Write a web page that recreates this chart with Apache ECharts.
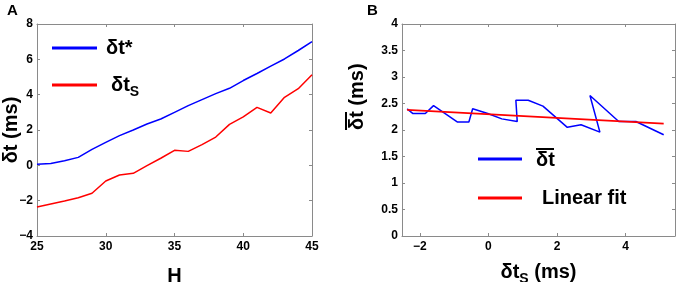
<!DOCTYPE html>
<html>
<head>
<meta charset="utf-8">
<script src="https://cdn.jsdelivr.net/npm/echarts@6/dist/echarts.min.js"></script>
<style>
  html, body { margin: 0; padding: 0; background: #fff; }
  #chart { width: 680px; height: 282px; }
</style>
</head>
<body>
<div id="chart"></div>
<script>
// panel A: delay vs H
const H = [25, 26, 27, 28, 29, 30, 31, 32, 33, 34, 35, 36, 37, 38, 39, 40, 41, 42, 43, 44, 45]
const dtStar = [0.06, 0.1, 0.26, 0.45, 0.9, 1.3, 1.68, 2.0, 2.34, 2.62, 3.0, 3.38, 3.72, 4.06, 4.36, 4.8, 5.2, 5.62, 6.02, 6.5, 7.0]
const dtS = [-2.36, -2.19, -2.02, -1.83, -1.58, -0.89, -0.55, -0.45, -0.02, 0.4, 0.85, 0.79, 1.17, 1.6, 2.32, 2.74, 3.28, 2.96, 3.85, 4.34, 5.13]

// panel B: mean delay vs dt_S
const meanX = [-2.37, -2.2, -2.02, -1.84, -1.6, -0.9, -0.57, -0.46, -0.02, 0.39, 0.84, 0.8, 1.16, 1.59, 2.3, 2.7, 3.25, 2.96, 3.8, 4.3, 5.11]
const meanY = [2.4, 2.31, 2.31, 2.31, 2.46, 2.15, 2.15, 2.4, 2.31, 2.21, 2.16, 2.56, 2.56, 2.45, 2.05, 2.1, 1.96, 2.65, 2.16, 2.16, 1.91]
const fitX = [-2.37, 5.11]
const fitY = [2.38, 2.12]

const bTicks = [-2, 0, 2, 4]

const FONT = 'Liberation Sans, Arial, sans-serif'
const AXIS_GRAY = '#8a8a8a'

const chart = echarts.init(document.getElementById('chart'))

const minus = (v) => String(v).replace('-', '\u2212')

const boxAxis = (extra) => Object.assign({
  type: 'value',
  nameMoveOverlap: false,
  splitLine: { show: false },
  axisLine: { onZero: false, lineStyle: { color: AXIS_GRAY, width: 1 } },
  axisTick: { inside: true, length: 3, lineStyle: { color: AXIS_GRAY } },
  axisLabel: { color: '#000', fontFamily: FONT, fontWeight: 'bold', fontSize: 12, margin: 4, formatter: minus }
}, extra)

const hidden = { show: false }
const nameStyle = { color: '#000', fontFamily: FONT, fontWeight: 'bold', fontSize: 20 }
const xLabel = { color: '#000', fontFamily: FONT, fontWeight: 'bold', fontSize: 12, margin: 5, formatter: minus }
const tick = { inside: true, length: 3, lineStyle: { color: AXIS_GRAY } }

const rich = {
  b: { fontFamily: FONT, fontWeight: 'bold', fontSize: 20, color: '#000', padding: [0, 0, 0, 4] },
  b2: { fontFamily: FONT, fontWeight: 'bold', fontSize: 20, color: '#000', padding: [0, 0, 0, 9] },
  s: { fontFamily: FONT, fontWeight: 'bold', fontSize: 14, color: '#000', padding: [14, 0, 0, 0] },
  sp: { width: 9, height: 2 },
  bar: { width: 18, height: 2, backgroundColor: '#000' },
  bt: { fontFamily: FONT, fontWeight: 'bold', fontSize: 20, color: '#000', padding: [0, 0, 0, 9] },
  bl: { fontFamily: FONT, fontWeight: 'bold', fontSize: 20, color: '#000', padding: [0, 0, 0, 15] }
}

const legendText = {
  'δt*': '{b|δt*}',
  'δtS': '{b2|δt}{s|S}',
  'meanDt': '{sp|}{bar|}\n{bt|δt}',
  'Linear fit': '{bl|Linear fit}'
}

const option = {
  animation: false,
  title: [
    { text: 'A', left: 7, top: 3, padding: 0, textStyle: { fontFamily: FONT, fontWeight: 'bold', fontSize: 15, color: '#000' } },
    { text: 'B', left: 367, top: 3, padding: 0, textStyle: { fontFamily: FONT, fontWeight: 'bold', fontSize: 15, color: '#000' } }
  ],
  grid: [
    { left: 37, right: 368, top: 24, bottom: 46, outerBoundsMode: 'none' },
    { left: 402, right: 5, top: 24, bottom: 46, outerBoundsMode: 'none' }
  ],
  legend: [
    {
      data: ['δt*', 'δtS'],
      orient: 'vertical',
      left: 52,
      top: 38,
      padding: 0,
      itemWidth: 45,
      itemHeight: 3,
      itemGap: 17,
      icon: 'rect',
      selectedMode: false,
      formatter: (name) => legendText[name],
      textStyle: { rich }
    },
    {
      data: ['meanDt', 'Linear fit'],
      orient: 'vertical',
      left: 478,
      top: 143,
      padding: 0,
      itemWidth: 44,
      itemHeight: 3,
      itemGap: 18,
      icon: 'rect',
      selectedMode: false,
      formatter: (name) => legendText[name],
      textStyle: { rich }
    }
  ],
  xAxis: [
    boxAxis({ gridIndex: 0, min: 25, max: 45, interval: 5, axisLabel: xLabel, name: 'H', nameLocation: 'middle', nameGap: 30, nameTextStyle: nameStyle }),
    boxAxis({ gridIndex: 0, min: 25, max: 45, interval: 5, position: 'top', axisLabel: hidden }),
    boxAxis({
      gridIndex: 1, min: -2.52, max: 5.44,
      axisTick: Object.assign({}, tick, { customValues: bTicks }),
      axisLabel: Object.assign({}, xLabel, { customValues: bTicks }),
      name: '{b|δt}{s|S}{b| (ms)}', nameLocation: 'middle', nameGap: 22,
      nameTextStyle: Object.assign({}, nameStyle, { rich: { b: nameStyle, s: { color: '#000', fontFamily: FONT, fontWeight: 'bold', fontSize: 14, padding: [14, 0, 0, 0] } } })
    }),
    boxAxis({
      gridIndex: 1, min: -2.52, max: 5.44, position: 'top', axisLabel: hidden,
      axisTick: Object.assign({}, tick, { customValues: bTicks })
    })
  ],
  yAxis: [
    boxAxis({ gridIndex: 0, min: -4, max: 8, interval: 2, name: 'δt (ms)', nameLocation: 'middle', nameGap: 16, nameTextStyle: nameStyle }),
    boxAxis({ gridIndex: 0, min: -4, max: 8, interval: 2, position: 'right', axisLabel: hidden }),
    boxAxis({
      gridIndex: 1, min: 0, max: 4, interval: 0.5,
      name: '{bar|}\n{b|δt (ms)}', nameLocation: 'middle', nameGap: 35,
      nameTextStyle: Object.assign({}, nameStyle, { align: 'left', rich: { b: nameStyle, bar: { width: 18, height: 2, backgroundColor: '#000' } } })
    }),
    boxAxis({ gridIndex: 1, min: 0, max: 4, interval: 0.5, position: 'right', axisLabel: hidden })
  ],
  series: [
    {
      name: 'δt*', type: 'line', xAxisIndex: 0, yAxisIndex: 0, symbol: 'none',
      color: '#0000ff', lineStyle: { width: 1.5 },
      data: H.map((h, i) => [h, dtStar[i]])
    },
    {
      name: 'δtS', type: 'line', xAxisIndex: 0, yAxisIndex: 0, symbol: 'none',
      color: '#ff0000', lineStyle: { width: 1.5 },
      data: H.map((h, i) => [h, dtS[i]])
    },
    {
      name: 'meanDt', type: 'line', xAxisIndex: 2, yAxisIndex: 2, symbol: 'none',
      color: '#0000ff', lineStyle: { width: 1.5 },
      data: meanX.map((x, i) => [x, meanY[i]])
    },
    {
      name: 'Linear fit', type: 'line', xAxisIndex: 2, yAxisIndex: 2, symbol: 'none',
      color: '#ff0000', lineStyle: { width: 1.7 },
      data: fitX.map((x, i) => [x, fitY[i]])
    }
  ]
}

chart.setOption(option)
</script>
</body>
</html>
